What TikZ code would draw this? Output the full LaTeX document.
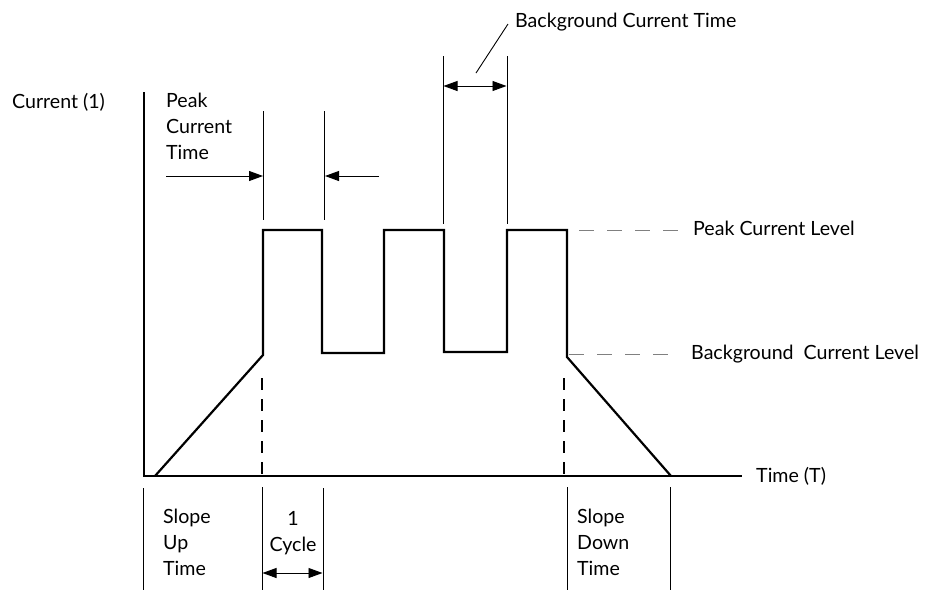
\documentclass[tikz,border=0pt]{standalone}
\usepackage{fontspec}
\setmainfont{Lato}
\usetikzlibrary{arrows.meta}
\begin{document}
\begin{tikzpicture}[x=1pt,y=-1pt,
  lbl/.style={font=\fontsize{19.6}{25.7}\selectfont, inner sep=0pt, align=left},
  thick line/.style={line width=2.2pt, line join=miter},
  thin line/.style={line width=0.9pt},
  level line/.style={line width=0.9pt, gray, dash pattern=on 15pt off 13pt},
  cut line/.style={line width=2pt, dash pattern=on 12pt off 9pt},
  tip/.style={-{Triangle[length=14pt,width=10pt]}},
  dtip/.style={{Triangle[length=14pt,width=10pt]}-{Triangle[length=14pt,width=10pt]}}]
\useasboundingbox (0,0) rectangle (927,590);
% axes
\coordinate (ytop) at (144,92);
\coordinate (org) at (144,476);
\coordinate (xend) at (742,476);
\draw[thick line] (ytop) -- (org) -- (xend);
% waveform
\coordinate (w0) at (155,476);
\coordinate (w1) at (263,355);
\coordinate (w2) at (263,230);
\coordinate (w3) at (322,230);
\coordinate (w4) at (322,353);
\coordinate (w5) at (384,353);
\coordinate (w6) at (384,230);
\coordinate (w7) at (444,230);
\coordinate (w8) at (444,352);
\coordinate (w9) at (507,352);
\coordinate (w10) at (507,230);
\coordinate (w11) at (567,230);
\coordinate (w12) at (567,357);
\coordinate (w13) at (671,476);
\draw[thick line] (w0) -- (w1) -- (w2) -- (w3) -- (w4) -- (w5) -- (w6) -- (w7) -- (w8) -- (w9) -- (w10) -- (w11) -- (w12) -- (w13);
% dashed cut lines
\coordinate (c1t) at (262,378); \coordinate (c1b) at (262,476);
\coordinate (c2t) at (564,378); \coordinate (c2b) at (564,476);
\draw[cut line] (c1t) -- (c1b);
\draw[cut line] (c2t) -- (c2b);
% level lines
\coordinate (pl0) at (579,230); \coordinate (pl1) at (678,230);
\coordinate (bl0) at (569,354); \coordinate (bl1) at (668,354);
\draw[level line] (pl0) -- (pl1);
\draw[level line] (bl0) -- (bl1);
% peak current time markers
\coordinate (p1t) at (263,111); \coordinate (p1b) at (263,220);
\coordinate (p2t) at (324,111); \coordinate (p2b) at (324,220);
\draw[thin line] (p1t) -- (p1b);
\draw[thin line] (p2t) -- (p2b);
\coordinate (pa0) at (166,176); \coordinate (pa1) at (263,176);
\coordinate (pb0) at (379,176); \coordinate (pb1) at (325,176);
\draw[thin line, tip] (pa0) -- (pa1);
\draw[thin line, tip] (pb0) -- (pb1);
% background current time markers
\coordinate (b1t) at (443,56); \coordinate (b1b) at (443,224);
\coordinate (b2t) at (507,56); \coordinate (b2b) at (507,224);
\draw[thin line] (b1t) -- (b1b);
\draw[thin line] (b2t) -- (b2b);
\coordinate (ba0) at (443.5,86); \coordinate (ba1) at (506.5,86);
\draw[thin line, dtip] (ba0) -- (ba1);
\coordinate (lead0) at (476,73); \coordinate (lead1) at (508,24);
\draw[thin line] (lead0) -- (lead1);
% bottom markers
\coordinate (s1t) at (143,488); \coordinate (s1b) at (143,590);
\coordinate (s2t) at (262,487); \coordinate (s2b) at (262,590);
\coordinate (s3t) at (323,488); \coordinate (s3b) at (323,590);
\coordinate (s4t) at (567,487); \coordinate (s4b) at (567,590);
\coordinate (s5t) at (670,487); \coordinate (s5b) at (670,590);
\foreach \a/\b in {s1t/s1b,s2t/s2b,s3t/s3b,s4t/s4b,s5t/s5b} \draw[thin line] (\a) -- (\b);
\coordinate (cy0) at (262.5,573); \coordinate (cy1) at (322.5,573);
\draw[thin line, dtip] (cy0) -- (cy1);
% labels (base anchor = baseline of last line)
\node[lbl, anchor=base west] (cur) at (12,108) {Current (1)};
\node[lbl, anchor=base west] (pct) at (166,159) {Peak\\Current\\Time};
\node[lbl, anchor=base west] (bct) at (515,27) {Background Current Time};
\node[lbl, anchor=base west] (pcl) at (693,235) {Peak Current Level};
\node[lbl, anchor=base west] (bcl) at (691,359) {Background\ \ Current Level};
\node[lbl, anchor=base west] (tt) at (756,482) {Time (T)};
\node[lbl, anchor=base west] (sut) at (163,575) {Slope\\Up\\Time};
\node[lbl, anchor=base, align=center] (cyc) at (293,551) {1\\Cycle};
\node[lbl, anchor=base west] (sdt) at (577,575) {Slope\\Down\\Time};
\end{tikzpicture}
\end{document}
